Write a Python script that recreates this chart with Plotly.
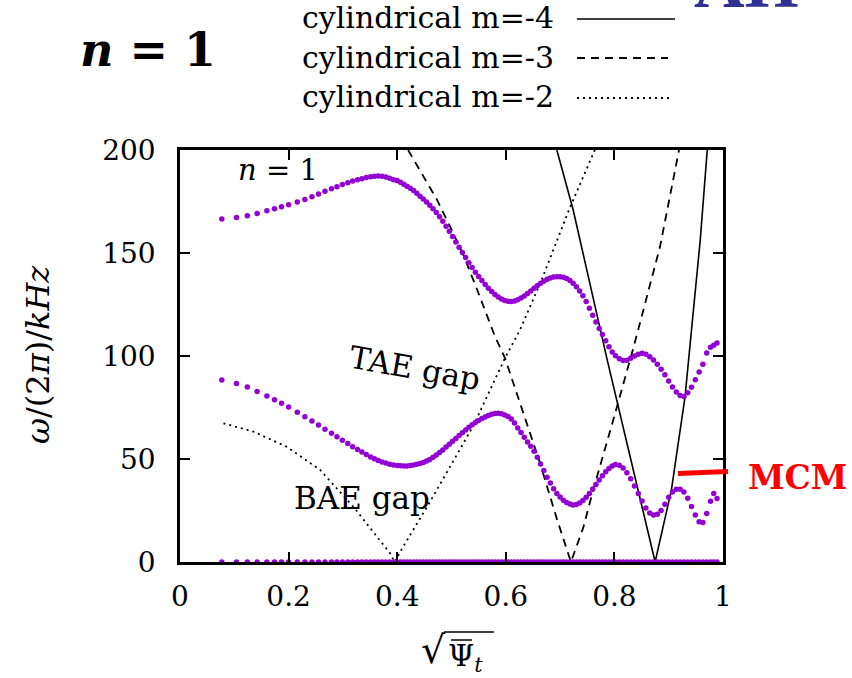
import plotly.graph_objects as go

# ---------------- data ----------------
# radial grid (sqrt of normalised toroidal flux) shared by the continuum branches
s_grid = [
    0.077, 0.104, 0.124, 0.142, 0.160, 0.174, 0.187, 0.200, 0.216, 0.230,
    0.243, 0.255, 0.267, 0.279, 0.289, 0.299, 0.309,
    0.318, 0.327, 0.335, 0.343, 0.351, 0.358, 0.365, 0.372, 0.379, 0.386,
    0.393, 0.400, 0.406, 0.412, 0.418, 0.424, 0.430, 0.436, 0.442, 0.448,
    0.454, 0.460, 0.466, 0.472, 0.478, 0.484, 0.490, 0.496, 0.502, 0.508,
    0.514, 0.520, 0.526, 0.532, 0.538, 0.544, 0.550, 0.556, 0.562, 0.568,
    0.574, 0.580, 0.586, 0.592, 0.598, 0.604, 0.610, 0.616, 0.622, 0.628,
    0.634, 0.640, 0.646, 0.652, 0.658, 0.664, 0.670, 0.676, 0.682, 0.688,
    0.694, 0.700, 0.706, 0.712, 0.718, 0.724, 0.730, 0.736, 0.742, 0.748,
    0.754, 0.760, 0.766, 0.772, 0.778, 0.784, 0.790, 0.796,
    0.802, 0.809, 0.816, 0.823, 0.830, 0.837, 0.844, 0.851, 0.858, 0.865,
    0.872, 0.879, 0.886, 0.893, 0.900, 0.907, 0.914, 0.921, 0.928, 0.935,
    0.942, 0.949, 0.956, 0.963, 0.970, 0.977, 0.983, 0.989,
]

# upper continuum branch (kHz)
upper_branch = [
    166.5, 167.2, 168.1, 169.2, 170.5, 171.5, 172.4, 173.4, 174.7, 176.0,
    177.3, 178.7, 180.0, 181.2, 182.2, 183.2, 184.1,
    184.9, 185.6, 186.1, 186.6, 187.0, 187.3, 187.4, 187.3, 186.9, 186.3,
    185.6, 185.2, 184.3, 183.4, 182.4, 181.4, 180.3, 179.0, 177.6, 176.2,
    174.8, 173.2, 171.5, 169.7, 167.6, 165.4, 163.0, 160.5, 158.0, 155.4,
    152.8, 150.3, 147.8, 145.3, 143.0, 140.7, 138.6, 136.6, 134.7, 132.9,
    131.3, 129.9, 128.7, 127.7, 127.0, 126.6, 126.5, 126.7, 127.3, 128.1,
    129.1, 130.3, 131.6, 132.9, 134.1, 135.3, 136.3, 137.2, 137.9, 138.3,
    138.5, 138.5, 138.2, 137.6, 136.6, 135.3, 133.6, 131.5, 129.2, 126.4,
    123.2, 119.8, 116.5, 113.4, 110.4, 107.4, 104.5, 102.0,
    100.1, 98.7, 97.8, 97.9, 98.9, 100.0, 100.8, 101.3, 100.9, 99.6,
    98.0, 96.0, 93.6, 90.9, 87.9, 85.0, 82.5, 80.8, 80.3, 82.2,
    84.8, 88.5, 92.2, 96.0, 101.5, 104.3, 105.2, 106.3,
]

# lower continuum branch (kHz)
lower_branch = [
    88.3, 86.7, 85.0, 82.8, 80.6, 78.8, 77.1, 75.3, 72.7, 70.5,
    68.4, 66.5, 64.5, 62.5, 60.8, 59.1, 57.5,
    56.0, 54.6, 53.4, 52.2, 51.0, 50.1, 49.3, 48.6, 48.0, 47.5,
    47.1, 46.8, 46.7, 46.6, 46.6, 46.8, 47.1, 47.4, 47.8, 48.3,
    49.0, 49.8, 50.8, 51.9, 53.1, 54.4, 55.8, 57.2, 58.6, 60.0,
    61.4, 62.8, 64.1, 65.4, 66.6, 67.7, 68.7, 69.6, 70.4, 71.1,
    71.7, 72.1, 72.2, 72.0, 71.4, 70.6, 69.4, 67.5, 65.0, 62.9,
    60.5, 58.3, 56.2, 53.8, 50.8, 47.6, 44.4, 41.2, 38.3, 35.6,
    33.3, 31.5, 30.0, 28.9, 28.1, 27.7, 27.9, 28.6, 29.8, 31.4,
    33.3, 35.4, 37.6, 39.8, 41.9, 43.8, 45.4, 46.6,
    47.3, 47.0, 45.6, 43.3, 40.4, 36.9, 33.3, 29.6, 26.2, 23.8,
    22.8, 23.2, 25.0, 28.0, 31.4, 34.0, 35.3, 35.3, 34.0, 31.0,
    27.0, 22.8, 19.5, 19.2, 23.5, 29.5, 33.3, 30.8,
]

# zero-frequency branch
zero_branch = [0.0] * len(s_grid)

# cylindrical shear-Alfven continua
cyl_m4_s = [0.694, 0.724, 0.755, 0.786, 0.830, 0.875, 0.905, 0.930, 0.958, 0.971]
cyl_m4_f = [200.0, 171.0, 135.0, 99.0, 50.0, 0.0, 35.0, 80.0, 156.0, 200.0]

cyl_m3_s = [0.420, 0.473, 0.497, 0.522, 0.546, 0.580, 0.5985, 0.626, 0.663,
            0.694, 0.720, 0.743, 0.761, 0.798, 0.835, 0.884, 0.919]
cyl_m3_f = [200.0, 176.0, 163.0, 149.0, 133.0, 109.5, 99.0, 77.0, 48.0,
            21.0, 0.0, 17.0, 35.0, 69.0, 104.0, 153.0, 200.0]

cyl_m2_s = [0.080, 0.135, 0.196, 0.258, 0.319, 0.362, 0.387, 0.395, 0.411,
            0.460, 0.488, 0.540, 0.5985, 0.626, 0.663, 0.718, 0.764]
cyl_m2_f = [67.3, 63.3, 56.0, 44.7, 26.9, 12.3, 4.2, 0.0, 7.4,
            29.0, 42.0, 66.0, 99.0, 112.6, 135.0, 172.0, 200.0]

x_ticks = [0, 0.2, 0.4, 0.6, 0.8, 1]
x_tick_text = ["0", "0.2", "0.4", "0.6", "0.8", "1"]
y_ticks = [0, 50, 100, 150, 200]
y_tick_text = ["0", "50", "100", "150", "200"]

legend_labels = ["cylindrical m=-4", "cylindrical m=-3", "cylindrical m=-2"]

# ---------------- figure ----------------
W, H = 852, 678
L, R, T, B = 180, 723, 150, 562   # plot-area edges in pixels

def px(x):
    return (x - L) / (R - L)

def py(y):
    return (B - y) / (B - T)

SERIF = "DejaVu Serif"
PURPLE = "#9400d3"

fig = go.Figure()

fig.add_trace(go.Scatter(x=cyl_m2_s, y=cyl_m2_f, mode="lines",
                         line=dict(color="black", width=1.8, dash="2px,4px"),
                         showlegend=False))
fig.add_trace(go.Scatter(x=cyl_m3_s, y=cyl_m3_f, mode="lines",
                         line=dict(color="black", width=1.8, dash="8px,6px"),
                         showlegend=False))
fig.add_trace(go.Scatter(x=cyl_m4_s, y=cyl_m4_f, mode="lines",
                         line=dict(color="black", width=1.6),
                         showlegend=False))

for branch in (upper_branch, lower_branch, zero_branch):
    fig.add_trace(go.Scatter(x=s_grid, y=branch, mode="markers",
                             marker=dict(color=PURPLE, size=5.5, line=dict(width=0)),
                             showlegend=False, cliponaxis=False))

axis_common = dict(
    showline=True, linecolor="black", linewidth=2.5, mirror="ticks",
    ticks="inside", ticklen=10, tickwidth=2, tickcolor="black",
    showgrid=False, zeroline=False,
    tickfont=dict(family=SERIF, size=28, color="black"),
)

fig.update_layout(
    width=W, height=H,
    margin=dict(l=L, r=W - R, t=T, b=H - B, pad=0),
    paper_bgcolor="white", plot_bgcolor="white",
    xaxis=dict(range=[0, 1], tickvals=x_ticks, ticktext=x_tick_text,
               ticklabelstandoff=8, **axis_common),
    yaxis=dict(range=[0, 200], tickvals=y_ticks, ticktext=y_tick_text,
               ticklabelstandoff=16, **axis_common),
    showlegend=False,
)

ann = []

def label(x, y, text, size, color="black", family=SERIF, angle=0,
          xanchor="center", yanchor="middle"):
    ann.append(dict(x=px(x), y=py(y), xref="paper", yref="paper",
                    xanchor=xanchor, yanchor=yanchor, text=text,
                    textangle=angle, showarrow=False,
                    font=dict(family=family, size=size, color=color)))

# axis titles
label(38, 355, "<i>ω</i>/(2<i>π</i>)/<i>kHz</i>", 32, angle=-90)
label(433, 650, "√", 38)
label(465, 657, "Ψ<sub><i>t</i></sub>", 30)

# in-plot labels
label(278, 170, "<i>n</i> = 1", 29)
label(415, 368, "TAE gap", 31, angle=10)
label(362, 498, "BAE gap", 31)

# big panel title
label(148, 50, "<b><i>n</i> = 1</b>", 46)

# MCM marker label
label(797, 477, "<b>MCM</b>", 33, color="#ff0000")

# partial heading glyphs at the top edge
label(692, 24, "<b>AΠ</b>", 70, color="#2e3192", family="Liberation Serif",
      xanchor="left", yanchor="bottom")

# legend text
legend_rows = [18, 57, 97]
for text, yrow in zip(legend_labels, legend_rows):
    label(556, yrow, text, 30, xanchor="right")

fig.update_layout(annotations=ann)

shapes = []
# legend line samples
legend_styles = [("solid", 1.6, 675), ("8px,6px", 1.8, 668), ("2px,4px", 1.8, 672)]
for (dash, w, xend), yrow in zip(legend_styles, legend_rows):
    shapes.append(dict(type="line", xref="paper", yref="paper",
                       x0=px(577), x1=px(xend), y0=py(yrow + 1), y1=py(yrow + 1),
                       line=dict(color="black", width=w, dash=dash)))
# square-root vinculum and overbar of the x-axis title
shapes.append(dict(type="line", xref="paper", yref="paper",
                   x0=px(444), x1=px(494), y0=py(632), y1=py(632),
                   line=dict(color="black", width=1.5)))
shapes.append(dict(type="line", xref="paper", yref="paper",
                   x0=px(451), x1=px(472), y0=py(640), y1=py(640),
                   line=dict(color="black", width=1.5)))
# MCM pointer
shapes.append(dict(type="line", xref="paper", yref="paper",
                   x0=px(678), x1=px(728), y0=py(473.5), y1=py(471.5),
                   line=dict(color="#ff0000", width=5)))
fig.update_layout(shapes=shapes)

fig.write_html("out.html")
